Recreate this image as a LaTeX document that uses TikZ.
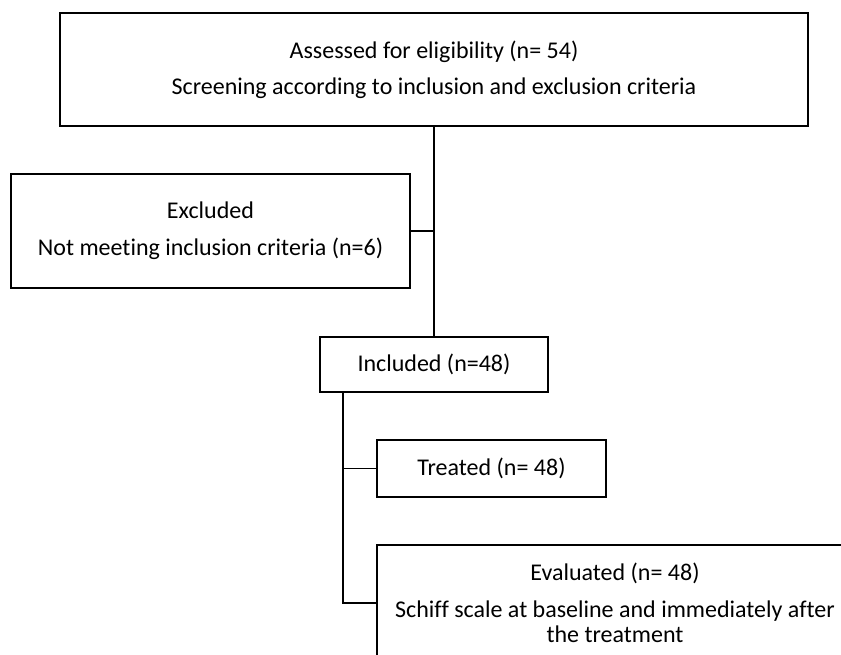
\documentclass[tikz,border=0pt]{standalone}
\usepackage{fontspec}
\setmainfont{Carlito}[Ligatures={NoCommon}]
\begin{document}
\begin{tikzpicture}[x=1pt,y=-1pt,
  box/.style={draw=black, line width=1.2pt, fill=white, rectangle, align=center, inner sep=0pt,
    font=\fontsize{24}{25}\selectfont, text=black},
  link/.style={draw=black, line width=1.2pt}]
\clip (0,0) rectangle (841,655);
\fill[white] (0,0) rectangle (841,655);
\node[box, minimum width=748pt, minimum height=113pt] (assess) at (434,69.5)
  {Assessed for eligibility (n= 54)\\[11pt]Screening according to inclusion and exclusion criteria};
\node[box, minimum width=399pt, minimum height=114pt] (excl) at (210.5,231)
  {Excluded\\[12pt]Not meeting inclusion criteria (n=6)};
\node[box, minimum width=228pt, minimum height=55pt] (incl) at (434,364.5)
  {Included (n=48)};
\node[box, minimum width=229pt, minimum height=57pt] (treat) at (491.5,468.5)
  {Treated (n= 48)};
\node[box, minimum width=476pt, minimum height=116pt] (eval) at (615,603)
  {Evaluated (n= 48)\\[12pt]Schiff scale at baseline and immediately after\\the treatment};
\coordinate (j1) at (434,231);
\coordinate (j2) at (343,392);
\coordinate (j3) at (343,468.5);
\coordinate (j4) at (343,603);
\draw[link] (assess.south) -- (incl.north);
\draw[link] (excl.east) -- (j1);
\draw[link] (j2) -- (j4) -- (eval.west);
\draw[link] (j3) -- (treat.west);
\end{tikzpicture}
\end{document}
